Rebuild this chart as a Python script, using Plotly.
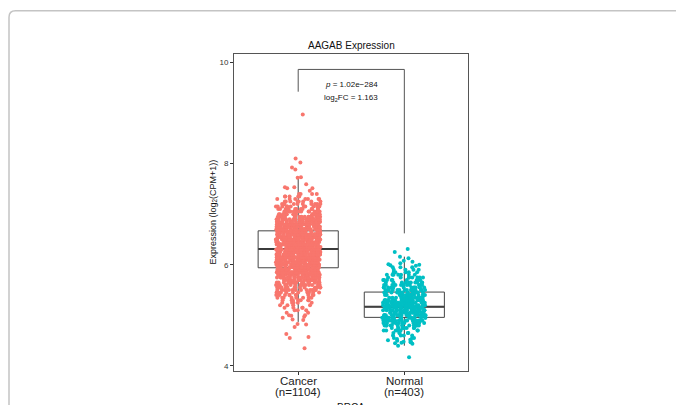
import plotly.graph_objects as go

# ---------------- data ----------------
categories = ["Cancer", "Normal"]
label_line1 = ["Cancer", "Normal"]
label_line2 = ["(n=1104)", "(n=403)"]
colors = ["#F8766D", "#00BFC4"]

# box statistics
box_q1 = [5.94, 4.96]
box_median = [6.31, 5.17]
box_q3 = [6.67, 5.46]
box_lowerfence = [4.87, 4.40]
box_upperfence = [7.73, 6.16]

# Cancer: dense core as value levels with point counts, plus individual tail points
cancer_levels = [5.00, 5.05, 5.10, 5.15, 5.20, 5.25, 5.30, 5.35, 5.40, 5.45,
                 5.50, 5.55, 5.60, 5.65, 5.70, 5.75, 5.80, 5.85, 5.90, 5.95,
                 6.00, 6.05, 6.10, 6.15, 6.20, 6.25, 6.30, 6.35, 6.40, 6.45,
                 6.50, 6.55, 6.60, 6.65, 6.70, 6.75, 6.80, 6.85, 6.90, 6.95,
                 7.00, 7.05, 7.10, 7.15, 7.20, 7.25, 7.30, 7.35, 7.40]
cancer_counts = [2, 2, 3, 4, 4, 5, 7, 8, 10, 11,
                 13, 15, 17, 19, 22, 24, 27, 29, 31, 34,
                 36, 38, 39, 41, 41, 42, 42, 42, 41, 41,
                 39, 38, 36, 34, 31, 29, 27, 24, 22, 19,
                 17, 15, 13, 11, 10, 8, 7, 5, 4]
cancer_tail_high = [8.97, 8.10, 8.02, 7.92, 7.88, 7.73, 7.72, 7.59, 7.53, 7.53,
                    7.51, 7.51, 7.46]
cancer_tail_low = [4.35, 4.57, 4.55, 4.63, 4.77, 4.82, 4.83, 4.91, 4.92, 4.99,
                   4.97, 4.95]

# Normal
normal_levels = [4.55, 4.60, 4.65, 4.70, 4.75, 4.80, 4.85, 4.90, 4.95, 5.00,
                 5.05, 5.10, 5.15, 5.20, 5.25, 5.30, 5.35, 5.40, 5.45, 5.50,
                 5.55, 5.60, 5.65, 5.70, 5.75, 5.80, 5.85, 5.90, 5.95]
normal_counts = [3, 4, 5, 7, 9, 12, 14, 17, 19, 21,
                 22, 23, 23, 22, 21, 20, 19, 17, 16, 15,
                 13, 12, 10, 9, 8, 7, 5, 4, 3]
normal_tail_high = [6.31, 6.25, 6.16, 6.13, 6.06, 6.03, 6.01, 6.00, 5.99, 5.98, 6.08]
normal_tail_low = [4.17, 4.40, 4.45, 4.47, 4.49, 4.51, 4.52, 4.53, 4.50, 4.48,
                   4.46, 4.44]

p_text = "<i>p</i> = 1.02e\u2212284"
fc_text = "log<sub>2</sub>FC = 1.163"


def expand(levels, counts):
    vals = []
    for v, c in zip(levels, counts):
        vals.extend([v] * c)
    return vals


group_parts = [
    [expand(cancer_levels, cancer_counts), cancer_tail_high, cancer_tail_low],
    [expand(normal_levels, normal_counts), normal_tail_high, normal_tail_low],
]

# ---------------- layout geometry ----------------
W, H = 676, 405
L, R, T, B = 234, 208, 54, 34
box_width = 0.755
jitter_width = 0.42
FONT = "Liberation Sans, Arial, sans-serif"

fig = go.Figure()

for i, cat in enumerate(categories):
    fig.add_trace(go.Box(
        x=[cat], q1=[box_q1[i]], median=[box_median[i]], q3=[box_q3[i]],
        lowerfence=[box_lowerfence[i]], upperfence=[box_upperfence[i]],
        width=box_width, boxpoints=False, whiskerwidth=0,
        fillcolor="rgba(0,0,0,0)", line=dict(color="#444444", width=1),
        showlegend=False, hoverinfo="skip",
    ))

for i, cat in enumerate(categories):
    for vals in group_parts[i]:
        fig.add_trace(go.Box(
            x=[cat] * len(vals), y=vals,
            boxpoints="all", jitter=1, pointpos=0, width=jitter_width,
            fillcolor="rgba(0,0,0,0)", line=dict(width=0, color="rgba(0,0,0,0)"),
            marker=dict(color=colors[i], size=4, line=dict(width=0)),
            showlegend=False, hoverinfo="y",
        ))

shapes = []
# thick median lines (beneath the points)
for i, cat in enumerate(categories):
    shapes.append(dict(type="line", xref="x", yref="y",
                       x0=i - box_width / 2, x1=i + box_width / 2,
                       y0=box_median[i], y1=box_median[i],
                       line=dict(color="#333333", width=2), layer="below"))

# comparison bracket
br_top, br_left, br_right = 9.86, 9.42, 6.62
br_col = dict(color="#555555", width=1)
shapes += [
    dict(type="line", xref="x", yref="y", x0=0, x1=0, y0=br_left, y1=br_top, line=br_col),
    dict(type="line", xref="x", yref="y", x0=0, x1=1, y0=br_top, y1=br_top, line=br_col),
    dict(type="line", xref="x", yref="y", x0=1, x1=1, y0=br_top, y1=br_right, line=br_col),
]

# rounded card border (pixel -> paper conversion)
pw, ph = W - L - R, H - T - B
def px(xp):
    return (xp - L) / pw
def py(yp):
    return (H - B - yp) / ph
cx, cy, rad = 9.0, 10.8, 6.5
path = (f"M {px(cx)},{py(430)} L {px(cx)},{py(cy + rad)} "
        f"Q {px(cx)},{py(cy)} {px(cx + rad)},{py(cy)} L {px(720)},{py(cy)}")
shapes.append(dict(type="path", xref="paper", yref="paper", path=path,
                   line=dict(color="#c4c4c4", width=1.5), layer="below"))

annotations = [
    dict(text="AAGAB Expression", xref="paper", yref="paper", x=0.5, y=py(45.7),
         xanchor="center", yanchor="middle", showarrow=False,
         font=dict(size=10, color="#111111", family=FONT)),
    dict(text=p_text, xref="x", yref="y", x=0.5, y=9.57, showarrow=False,
         xanchor="center", yanchor="middle", font=dict(size=8, color="#111111", family=FONT)),
    dict(text=fc_text, xref="x", yref="y", x=0.5, y=9.29, showarrow=False,
         xanchor="center", yanchor="middle", font=dict(size=8, color="#111111", family=FONT)),
    dict(text="Expression (log<sub>2</sub>(CPM+1))", xref="paper", yref="paper",
         x=px(213), y=0.5, textangle=-90, showarrow=False,
         xanchor="center", yanchor="middle", font=dict(size=9, color="#111111", family=FONT)),
    dict(text="BRCA", xref="paper", yref="paper", x=0.5, y=py(400),
         xanchor="center", yanchor="top", showarrow=False,
         font=dict(size=10, color="#111111", family=FONT)),
]
# x category labels, two lines each
for i, cat in enumerate(categories):
    annotations.append(dict(text=label_line1[i], xref="x", yref="paper", x=i, y=py(380.5),
                            xanchor="center", yanchor="middle", showarrow=False,
                            font=dict(size=11.5, color="#222222", family=FONT)))
    annotations.append(dict(text=label_line2[i], xref="x", yref="paper", x=i, y=py(392),
                            xanchor="center", yanchor="middle", showarrow=False,
                            font=dict(size=11.5, color="#222222", family=FONT)))

fig.update_layout(
    width=W, height=H,
    margin=dict(l=L, r=R, t=T, b=B, pad=0),
    paper_bgcolor="white", plot_bgcolor="white",
    boxmode="overlay", showlegend=False,
    font=dict(family=FONT),
    shapes=shapes, annotations=annotations,
    xaxis=dict(type="category", categoryorder="array", categoryarray=categories,
               range=[-0.605, 1.6], tickmode="array", tickvals=categories,
               showticklabels=False, showgrid=False, zeroline=False,
               showline=True, mirror=True, linecolor="#555555", linewidth=1,
               ticks="outside", ticklen=3, tickcolor="#333333",
               automargin=False, fixedrange=True),
    yaxis=dict(range=[3.9, 10.165], tickmode="array", tickvals=[4, 6, 8, 10],
               showgrid=False, zeroline=False,
               showline=True, mirror=True, linecolor="#555555", linewidth=1,
               ticks="outside", ticklen=3, tickcolor="#333333",
               tickfont=dict(size=8, color="#333333", family=FONT),
               automargin=False, fixedrange=True),
)

fig.write_html("out.html", config={"displayModeBar": False},
               post_script="document.body.style.margin='0';document.body.style.overflow='hidden';")
